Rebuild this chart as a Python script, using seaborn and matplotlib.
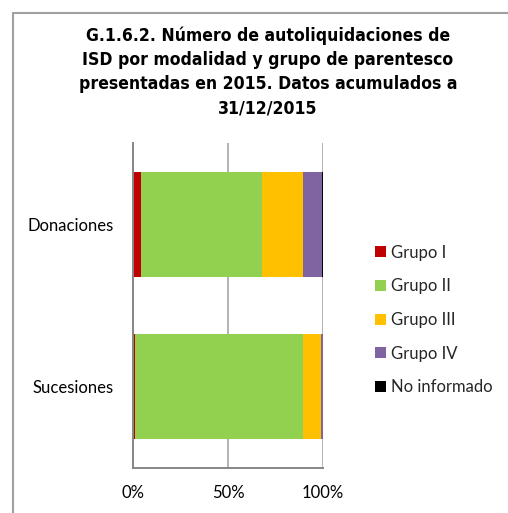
import matplotlib
matplotlib.use("Agg")
import matplotlib.pyplot as plt
import seaborn as sns
import numpy as np
import pandas as pd
from matplotlib.patches import Patch
from matplotlib.lines import Line2D

# Data (percent of autoliquidaciones)
categories = ["Donaciones", "Sucesiones"]
series = ["Grupo I", "Grupo II", "Grupo III", "Grupo IV", "No informado"]
grupo_i = [4.2, 1.0]
grupo_ii = [63.8, 88.3]
grupo_iii = [21.6, 9.6]
grupo_iv = [10.1, 1.0]
no_informado = [0.3, 0.1]
colors = ["#C00000", "#92D050", "#FFC000", "#8064A2", "#000000"]
x_ticks = [0, 50, 100]
x_tick_labels = ["0%", "50%", "100%"]

title = ("G.1.6.2. Número de autoliquidaciones de\n"
         "ISD por modalidad y grupo de parentesco\n"
         "presentadas en 2015. Datos acumulados a\n"
         "31/12/2015")

sns.set_style("white")
plt.rcParams["font.family"] = ["Lato", "DejaVu Sans"]

df = pd.DataFrame(
    [grupo_i, grupo_ii, grupo_iii, grupo_iv, no_informado],
    index=series, columns=categories,
).T
df = df.div(df.sum(axis=1), axis=0) * 100
cum = df.cumsum(axis=1)

fig = plt.figure(figsize=(5.08, 5.13), dpi=100)
ax = fig.add_axes([133 / 508, 45 / 513, 190 / 508, 325 / 513])

# Draw cumulative totals from the largest down so bars appear stacked
for name, color in reversed(list(zip(series, colors))):
    sns.barplot(x=cum[name].values, y=categories, color=color, orient="h",
                width=0.646, ax=ax, saturation=1, edgecolor="none")

ax.set_xlim(0, 100)
ax.set_xticks(x_ticks)
ax.set_xticklabels(x_tick_labels)
ax.set_xlabel("")
ax.set_ylabel("")
ax.tick_params(axis="both", length=0, labelsize=12, colors="#000000")
ax.tick_params(axis="x", pad=12)
ax.tick_params(axis="y", pad=14)
ax.xaxis.grid(True, color="#A6A6A6", linewidth=1.2)
ax.set_axisbelow(True)
for side in ["top", "right"]:
    ax.spines[side].set_visible(False)
for side in ["left", "bottom"]:
    ax.spines[side].set_color("#868686")
    ax.spines[side].set_linewidth(1.4)

handles = [Patch(facecolor=c, edgecolor="none", label=s) for s, c in zip(series, colors)]
fig.legend(handles=handles, loc="upper left", bbox_to_anchor=(368 / 508, 1 - 238 / 513),
           frameon=False, fontsize=12, handlelength=0.65, handleheight=0.65,
           handletextpad=0.35, labelspacing=1.06, borderaxespad=0)

fig.text(268 / 508, 1 - 27 / 513, title, ha="center", va="top", color="#000000",
         fontsize=12.6, fontweight="bold", fontstretch="condensed", linespacing=1.42,
         family=["DejaVu Sans"])

# Outer chart frame (left and top edges visible)
fig.add_artist(Line2D([13 / 508, 13 / 508], [0, 1 - 13 / 513], color="#A0A0A0",
                      linewidth=1.5, transform=fig.transFigure))
fig.add_artist(Line2D([13 / 508, 1], [1 - 13 / 513, 1 - 13 / 513], color="#A0A0A0",
                      linewidth=1.5, transform=fig.transFigure))

fig.savefig("out.png", dpi=100)
